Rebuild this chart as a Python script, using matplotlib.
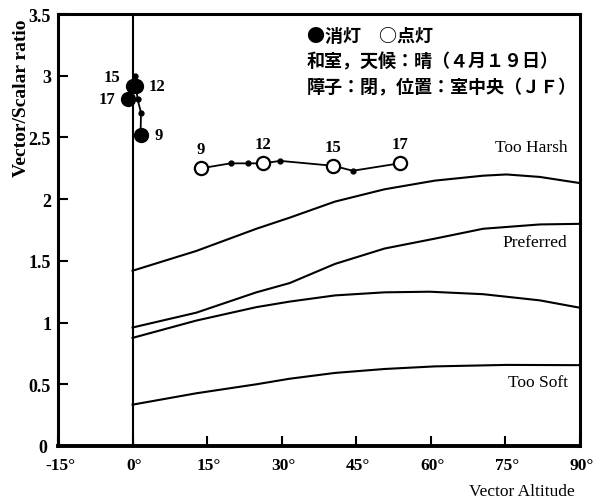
import matplotlib
matplotlib.use("Agg")
import matplotlib.pyplot as plt
from matplotlib.transforms import ScaledTranslation

# ---- data ----
# boundary curves (Vector altitude in degrees, vector/scalar ratio)
harsh_x = [0, 12.8, 24.9, 31.6, 40.7, 50.7, 60.8, 70.5, 75.2, 81.9, 90]
harsh_y = [1.42, 1.58, 1.76, 1.85, 1.98, 2.08, 2.15, 2.19, 2.20, 2.18, 2.13]
pref_hi_x = [0, 12.8, 24.9, 31.6, 40.7, 50.7, 60.8, 70.5, 81.9, 90]
pref_hi_y = [0.96, 1.08, 1.245, 1.32, 1.475, 1.60, 1.68, 1.76, 1.795, 1.80]
pref_lo_x = [0, 12.8, 24.9, 31.6, 40.7, 50.7, 59.8, 70.5, 81.9, 90]
pref_lo_y = [0.876, 1.016, 1.125, 1.17, 1.22, 1.245, 1.25, 1.23, 1.18, 1.12]
soft_x = [0, 12.8, 24.9, 31.6, 40.7, 50.7, 60.8, 75.2, 90]
soft_y = [0.335, 0.427, 0.50, 0.545, 0.592, 0.624, 0.645, 0.657, 0.655]

# lights off (filled) : path and labelled hours
off_path_x = [1.6, 1.7, 1.0, 0.7, 0.5, 0.0, -1.0]
off_path_y = [2.52, 2.70, 2.81, 2.92, 3.00, 2.92, 2.81]
off_hours = ["9", "12", "15", "17"]
off_x = [1.6, 0.7, 0.0, -1.0]
off_y = [2.52, 2.92, 2.92, 2.81]
off_dot_x = [1.7, 1.0, 0.5]
off_dot_y = [2.70, 2.81, 3.00]

# lights on (open)
on_path_x = [13.8, 19.7, 23.3, 26.2, 29.7, 40.4, 44.3, 53.7]
on_path_y = [2.25, 2.29, 2.29, 2.29, 2.31, 2.27, 2.23, 2.29]
on_hours = ["9", "12", "15", "17"]
on_x = [13.8, 26.2, 40.4, 53.7]
on_y = [2.25, 2.29, 2.27, 2.29]
on_dot_x = [19.7, 23.3, 29.7, 44.3]
on_dot_y = [2.29, 2.29, 2.31, 2.23]

x_ticks = [-15, 0, 15, 30, 45, 60, 75, 90]
x_ticklabels = ["-15°", "0°", "15°", "30°", "45°", "60°", "75°", "90°"]
y_ticks = [0, 0.5, 1, 1.5, 2, 2.5, 3, 3.5]
y_ticklabels = ["0", "0.5", "1", "1.5", "2", "2.5", "3", "3.5"]

zone_labels = ["Too Harsh", "Preferred", "Too Soft"]
zone_y = [2.42, 1.65, 0.52]

legend_lines = ["●消灯　○点灯", "和室，天候：晴（４月１９日）", "障子：閉，位置：室中央（ＪＦ）"]

# ---- figure ----
fig = plt.figure(figsize=(5.93, 5.02), dpi=100)
ax = fig.add_axes([58 / 593, 1 - 447 / 502, (580 - 58) / 593, (447 - 15) / 502])
ax.set_xlim(-15, 90)
ax.set_ylim(0, 3.5)

serif = "Liberation Serif"
cjk = ["Noto Sans CJK JP", "DejaVu Sans"]

for xs, ys in [(harsh_x, harsh_y), (pref_hi_x, pref_hi_y), (pref_lo_x, pref_lo_y), (soft_x, soft_y)]:
    ax.plot(xs, ys, color="black", lw=1.5, solid_joinstyle="round")

ax.axvline(0, color="black", lw=1.5)

# lights off
ax.plot(off_path_x, off_path_y, color="black", lw=1.3)
ax.plot(off_dot_x, off_dot_y, "o", color="black", ms=3.5)
ax.plot(off_x, off_y, "o", color="black", ms=10)
off_offsets = [(10, 0), (9, 0), (-9, 6), (-9, 0)]
off_ha = ["left", "left", "right", "right"]
for h, x, y, off, ha in zip(off_hours, off_x, off_y, off_offsets, off_ha):
    ax.annotate(h, (x, y), xytext=off, textcoords="offset points", ha=ha, va="center",
                fontsize=12, fontweight="bold", family=serif)

# lights on
ax.plot(on_path_x, on_path_y, color="black", lw=1.3)
ax.plot(on_dot_x, on_dot_y, "o", color="black", ms=3.5)
ax.plot(on_x, on_y, "o", mfc="white", mec="black", mew=1.6, ms=9.5)
for h, x, y in zip(on_hours, on_x, on_y):
    ax.annotate(h, (x, y), xytext=(0, 8), textcoords="offset points", ha="center", va="bottom",
                fontsize=12, fontweight="bold", family=serif)

for lab, y in zip(zone_labels, zone_y):
    ax.text(87.5, y, lab, ha="right", va="center", fontsize=12.5, family=serif)

for i, line in enumerate(legend_lines):
    fig.text(307 / 593, 1 - (36 + 26 * i) / 502, line, ha="left", va="center",
             fontsize=13, fontweight="bold", family=cjk)

ax.set_xticks(x_ticks)
ax.set_xticklabels(x_ticklabels, family=serif, fontweight="bold", fontsize=12.5)
ax.set_yticks(y_ticks)
ax.set_yticklabels(y_ticklabels, family=serif, fontweight="bold", fontsize=13)
ax.tick_params(direction="in", length=7, width=1.5, pad=5)
ax.tick_params(axis="x", pad=8)
shift = ScaledTranslation(2 / 100, 0, fig.dpi_scale_trans)
for lbl in ax.get_xticklabels():
    lbl.set_transform(lbl.get_transform() + shift)
y0 = ax.get_yticklabels()[0]
y0.set_transform(y0.get_transform() + ScaledTranslation(-4 / 100, 0, fig.dpi_scale_trans))

for s in ax.spines.values():
    s.set_linewidth(2.2)
ax.spines["bottom"].set_linewidth(2.8)

fig.text(22 / 593, 1 - 98 / 502, "Vector/Scalar ratio", rotation=90, ha="center", va="center",
         fontsize=14, fontweight="bold", family=serif)
fig.text(522 / 593, 1 - 492 / 502, "Vector Altitude", ha="center", va="center",
         fontsize=12.5, family=serif)

fig.savefig("out.png", dpi=100)
